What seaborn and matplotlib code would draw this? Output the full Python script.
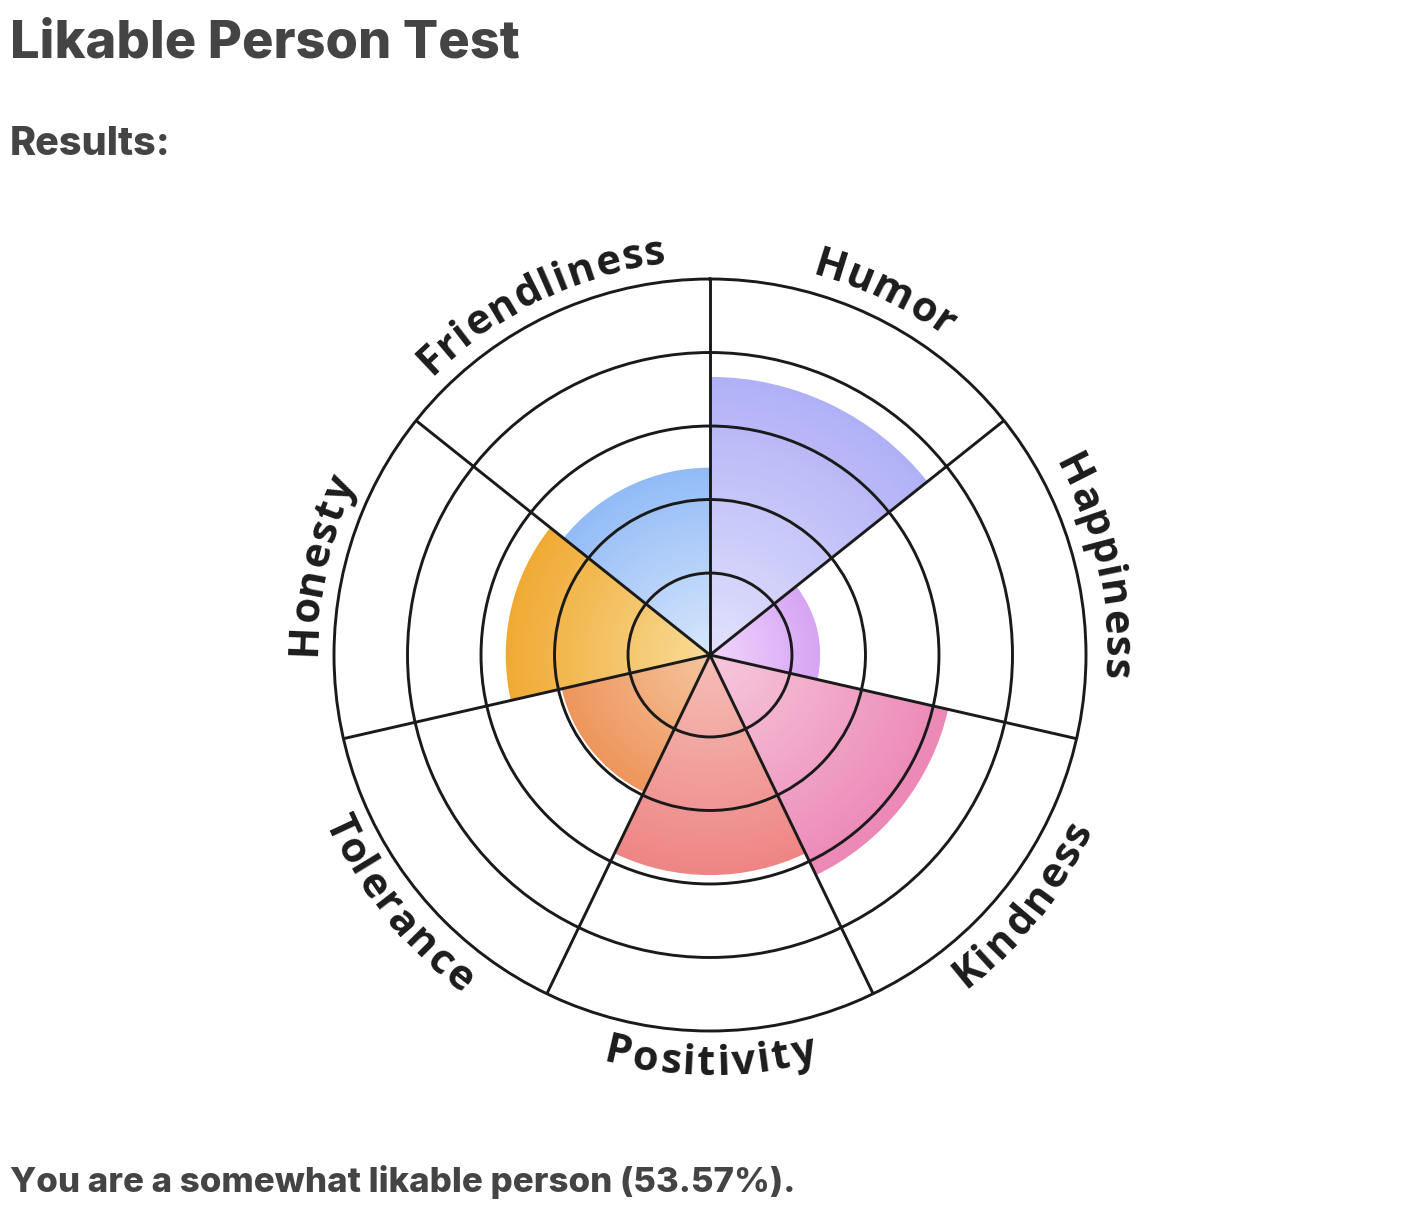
import numpy as np
import matplotlib
matplotlib.use('Agg')
import matplotlib.pyplot as plt
import seaborn as sns
from matplotlib.colors import to_rgb
from matplotlib.font_manager import FontProperties

# scores per trait (percent), clockwise from 12 o'clock
traits = ['Humor', 'Happiness', 'Kindness', 'Positivity', 'Tolerance', 'Honesty', 'Friendliness']
scores = [73.6, 27.9, 64.4, 57.8, 39.3, 53.5, 48.9]
inner_colors = ['#e2e2fc', '#f0d6fc', '#f6cadd', '#f5bfb6', '#f5c59e', '#f8dc98', '#d8e7fd']
outer_colors = ['#b0b0f7', '#d6a4f4', '#ec88b6', '#ee8585', '#ee955c', '#f0aa34', '#92bbf6']
rings = [20, 40, 60, 80]
title = 'Likable Person Test'
subtitle = 'Results:'
result_text = 'You are a somewhat likable person (53.57%).'

sns.set_theme(style='white')
plt.rcParams['font.family'] = ['Open Sans', 'DejaVu Sans']

fig = plt.figure(figsize=(14.1, 12.26), dpi=100)
ax = fig.add_axes([0.23688, 0.15905, 0.53333, 0.61338], projection='polar')
ax.set_theta_zero_location('N')
ax.set_theta_direction(-1)
r0 = -2.3
ax.set_ylim(r0, 100)

n = len(traits)
width = 2 * np.pi / n
theta = np.arange(n) * width + width / 2

# radial gradient: stack bars from outer to inner
steps = 60
for t, s, ci, co in zip(theta, scores, inner_colors, outer_colors):
    ci, co = np.array(to_rgb(ci)), np.array(to_rgb(co))
    for k in range(steps, 0, -1):
        f = k / steps
        col = ci + (co - ci) * f
        if k == steps:
            ax.bar(t, (s - r0) * f, width=width, bottom=r0, color=col,
                   edgecolor='white', linewidth=1.2)
        else:
            ax.bar(t, (s - r0) * f, width=width, bottom=r0, color=col, linewidth=0)

ax.set_yticks(rings)
ax.set_yticklabels([])
ax.set_xticks(np.arange(n) * width)
ax.set_xticklabels([])
ax.tick_params(length=0)
ax.grid(True, color='#1a1a1a', linewidth=2.1)
ax.set_axisbelow(False)
ax.spines['polar'].set_color('#1a1a1a')
ax.spines['polar'].set_linewidth(2.1)

# curved labels around the circle
renderer = fig.canvas.get_renderer()
prop = FontProperties(family='Open Sans', weight='bold', size=30)
px_per_unit = 376 / (100 - r0)
track = 2.0


def text_w(s):
    if not s:
        return 0.0
    return renderer.get_text_width_height_descent(s, prop, ismath=False)[0]


def curved(label, center):
    upper = np.cos(center) > -0.3
    total = text_w(label) + track * (len(label) - 1)
    r_mid = 408
    r_base = 394 if upper else 420
    r_data = r_base / px_per_unit + r0
    for i, ch in enumerate(label):
        pos = (text_w(label[:i]) + text_w(label[:i + 1])) / 2 + track * i
        off = (pos - total / 2) / r_mid
        if upper:
            th = center + off
            rot = -np.degrees(th)
        else:
            th = center - off
            rot = 180 - np.degrees(th)
        ax.text(th, r_data, ch, rotation=rot, rotation_mode='anchor',
                ha='center', va='baseline', fontproperties=prop,
                color='#1c1c1c', clip_on=False)


for lab, t in zip(traits, theta):
    curved(lab, t)

fig.text(10 / 1410, 1 - 57 / 1226, title, fontsize=37.7, fontweight='heavy',
         family='Inter', color='#444444', ha='left', va='baseline')
fig.text(10 / 1410, 1 - 155 / 1226, subtitle, fontsize=28.5, fontweight='heavy',
         family='Inter', color='#444444', ha='left', va='baseline')
fig.text(10 / 1410, 1 - 1192 / 1226, result_text, fontsize=25.1, fontweight='heavy',
         family='Inter', color='#444444', ha='left', va='baseline')

fig.savefig('out.png', dpi=100, facecolor='white')
